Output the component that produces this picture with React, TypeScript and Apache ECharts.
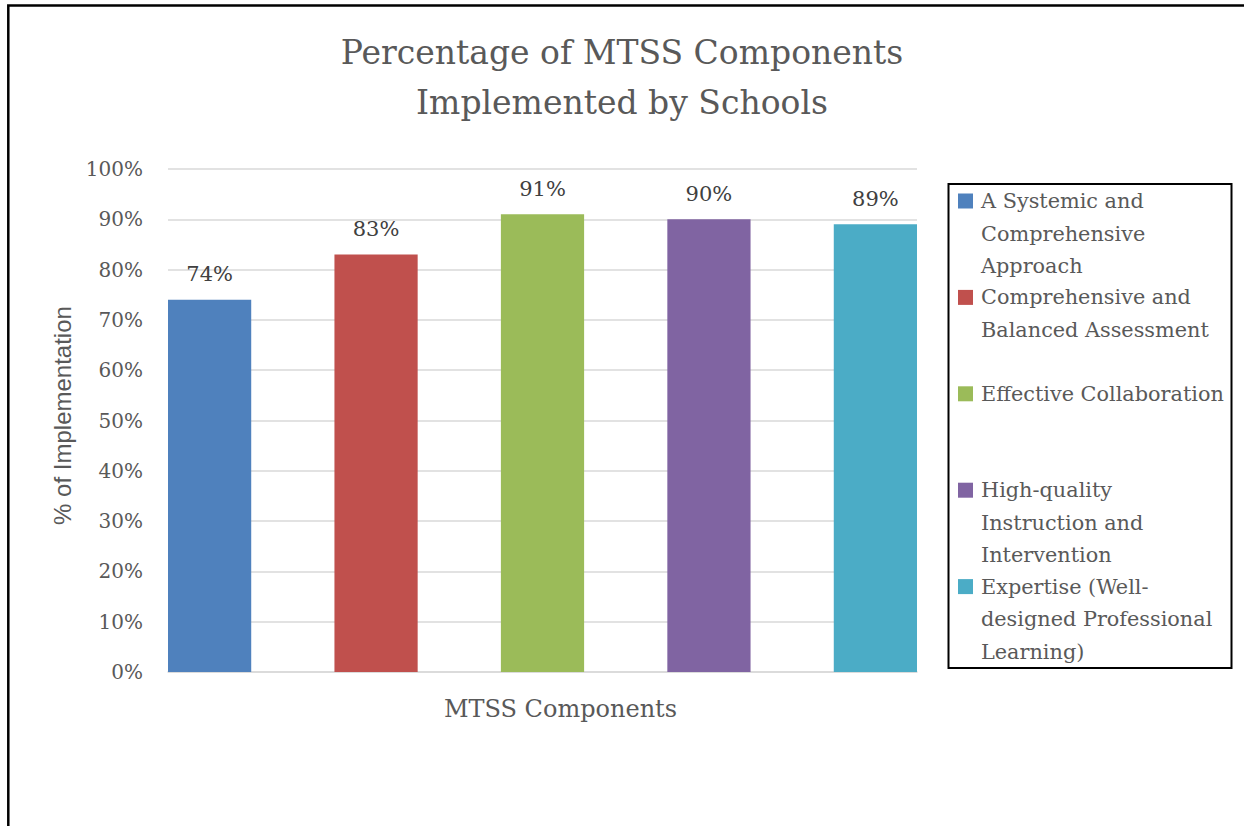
import React, { useEffect, useRef } from "react";
import * as echarts from "echarts";

const titleText = "Percentage of MTSS Components\nImplemented by Schools";
const xAxisTitle = "MTSS Components";
const yAxisTitle = "% of Implementation";
const categories = [""];
const seriesNames = [
  "A Systemic and Comprehensive Approach",
  "Comprehensive and Balanced Assessment",
  "Effective Collaboration",
  "High-quality Instruction and Intervention",
  "Expertise (Well-designed Professional Learning)",
];
const legendLabels = [
  "A Systemic and\nComprehensive\nApproach",
  "Comprehensive and\nBalanced Assessment",
  "Effective Collaboration",
  "High-quality\nInstruction and\nIntervention",
  "Expertise (Well-\ndesigned Professional\nLearning)",
];
const seriesValues = [74, 83, 91, 90, 89];
const seriesColors = ["#4F81BD", "#C0504D", "#9BBB59", "#8064A2", "#4BACC6"];

const SERIF = "'DejaVu Serif', serif";
const SANS = "'Liberation Sans', Arial, sans-serif";
const GRAY = "#595959";

export default function App() {
  const ref = useRef<HTMLDivElement>(null);
  useEffect(() => {
    if (!ref.current) return;
    const chart = echarts.init(ref.current, undefined, { renderer: "svg" });

    const legendTop = 184;
    const legendLeft = 948.5;
    const legendW = 283;
    const legendH = 484;
    const slot = 96.4;
    const lineH = 32.5;

    const legendGraphics: any[] = [
      {
        type: "rect",
        shape: { x: legendLeft, y: legendTop, width: legendW, height: legendH },
        style: { fill: "#fff", stroke: "#000", lineWidth: 2 },
        z: 10,
      },
    ];
    legendLabels.forEach((lab, i) => {
      const cy = legendTop + 17 + i * slot;
      legendGraphics.push({
        type: "rect",
        shape: { x: 958, y: cy - 7.5, width: 15, height: 15 },
        style: { fill: seriesColors[i] },
        z: 11,
      });
      legendGraphics.push({
        type: "text",
        x: 981,
        y: cy - lineH / 2,
        style: {
          text: lab,
          fill: GRAY,
          font: `20.8px ${SERIF}`,
          lineHeight: lineH,
          verticalAlign: "top",
          align: "left",
        },
        z: 11,
      });
    });

    chart.setOption({
      animation: false,
      backgroundColor: "#fff",
      title: {
        text: titleText,
        left: "center",
        top: 27,
        padding: 0,
        textStyle: {
          fontFamily: SERIF,
          fontSize: 33,
          fontWeight: "normal",
          color: GRAY,
          lineHeight: 50,
        },
      },
      grid: { left: 168, right: 327, top: 169, bottom: 154, containLabel: false },
      xAxis: {
        type: "category",
        data: categories,
        name: xAxisTitle,
        nameLocation: "middle",
        nameGap: 25,
        nameTextStyle: {
          fontFamily: SERIF,
          fontSize: 24,
          color: GRAY,
          padding: [0, 0, 0, 36],
        },
        axisLine: { lineStyle: { color: "#d9d9d9", width: 1.5 } },
        axisTick: { show: false },
        axisLabel: { show: false },
      },
      yAxis: {
        type: "value",
        min: 0,
        max: 100,
        interval: 10,
        name: yAxisTitle,
        nameLocation: "middle",
        nameGap: 94,
        nameTextStyle: {
          fontFamily: SANS,
          fontSize: 24,
          color: GRAY,
          padding: [0, 0, 0, 10],
        },
        axisLine: { show: false },
        axisTick: { show: false },
        axisLabel: {
          formatter: "{value}%",
          fontFamily: SERIF,
          fontSize: 20,
          color: GRAY,
          margin: 25,
        },
        splitLine: { lineStyle: { color: "#d9d9d9", width: 1.5 } },
      },
      series: seriesNames.map((name, i) => ({
        type: "bar",
        name,
        data: [seriesValues[i]],
        barGap: "100%",
        barCategoryGap: "0%",
        itemStyle: { color: seriesColors[i] },
        label: {
          show: true,
          position: "top",
          distance: 15,
          formatter: "{c}%",
          fontFamily: SERIF,
          fontSize: 21,
          color: "#404040",
        },
      })),
      graphic: [
        {
          type: "rect",
          shape: { x: 8.3, y: 5.5, width: 1400, height: 1000 },
          style: { fill: "none", stroke: "#000", lineWidth: 2.5 },
          z: 20,
        },
        ...legendGraphics,
      ],
    });
    return () => chart.dispose();
  }, []);
  return (
    <div
      ref={ref}
      style={{ position: "fixed", left: 0, top: 0, width: 1244, height: 826 }}
    />
  );
}
